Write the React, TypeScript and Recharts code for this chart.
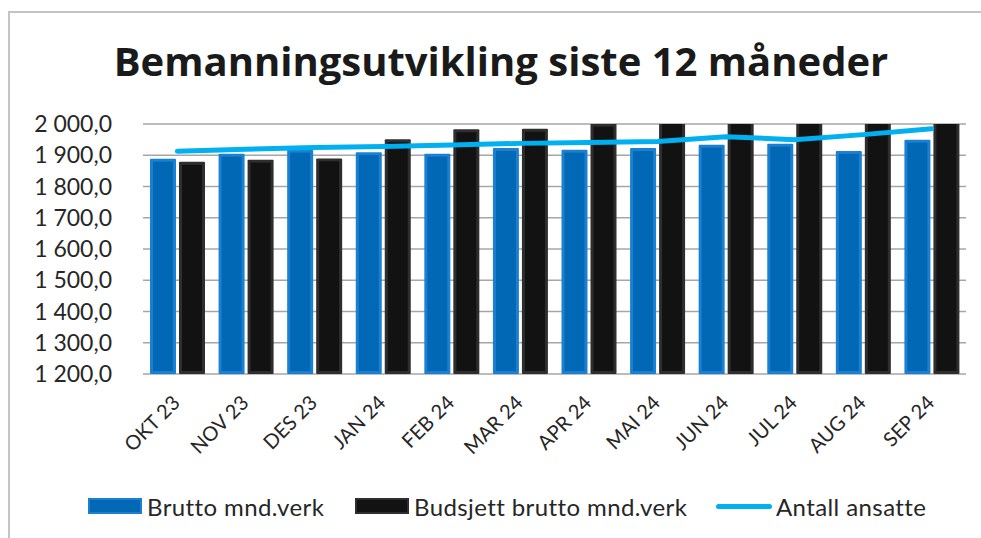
import { Bar, CartesianGrid, ComposedChart, Legend, Line, XAxis, YAxis } from "recharts";

const MONTHS = ["OKT 23", "NOV 23", "DES 23", "JAN 24", "FEB 24", "MAR 24", "APR 24", "MAI 24", "JUN 24", "JUL 24", "AUG 24", "SEP 24"];
const BRUTTO = [1889, 1905, 1918, 1910, 1905, 1923, 1918, 1923, 1934, 1937, 1914, 1950];
const BUDSJETT = [1879, 1886, 1890, 1951, 1983, 1985, 2001, 2012, 2015, 2020, 2028, 2035];
const ANSATTE = [1913, 1919, 1925, 1928, 1933, 1938, 1941, 1944, 1959, 1950, 1966, 1985];
const Y_TICKS = [1200, 1300, 1400, 1500, 1600, 1700, 1800, 1900, 2000];

const FONT = "Lato, 'Open Sans', sans-serif";
const TEXT = "#262626";
const BLUE = "#0068b5";
const BLUE_EDGE = "#1c80d2";
const BLACK = "#121212";
const BLACK_EDGE = "#2e2e2e";
const LINE = "#00b0f0";

const data = MONTHS.map((m, i) => ({
  month: m,
  brutto: BRUTTO[i],
  budsjett: BUDSJETT[i],
  ansatte: ANSATTE[i],
}));

const fmt = (v: number) => {
  const [int, dec] = v.toFixed(1).split(".");
  return int.replace(/\B(?=(\d{3})+(?!\d))/g, " ") + "," + dec;
};

const bevel = (outer: string, inner: string) => (props: any) => {
  const { x, y, width, height } = props;
  if (!height || height <= 0) return <g />;
  return (
    <g>
      <rect x={x} y={y} width={width} height={height} fill={outer} rx={1} />
      <rect x={x + 3} y={y + 3} width={Math.max(width - 6, 0)} height={Math.max(height - 6, 0)} fill={inner} />
    </g>
  );
};

const XTick = ({ x, y, payload }: any) => (
  <text
    x={x + 4}
    y={y + 22}
    transform={`rotate(-45 ${x + 4} ${y + 22})`}
    textAnchor="end"
    fontFamily={FONT}
    fontSize={20}
    fill={TEXT}
  >
    {payload.value}
  </text>
);

// legend items are placed where the reference has them
const LEGEND_ITEMS = [
  { label: "Brutto mnd.verk", left: 88, kind: "blue" },
  { label: "Budsjett brutto mnd.verk", left: 355, kind: "black" },
  { label: "Antall ansatte", left: 716, kind: "line" },
];

const LegendContent = () => (
  <div style={{ position: "relative", height: 30 }}>
    {LEGEND_ITEMS.map((it) => (
      <div key={it.label} style={{ position: "absolute", left: it.left, top: 0, height: 30, display: "flex", alignItems: "center" }}>
        {it.kind === "line" ? (
          <div style={{ width: 56, height: 5, borderRadius: 3, background: LINE }} />
        ) : (
          <div
            style={{
              width: 54,
              height: 16,
              boxSizing: "border-box",
              background: it.kind === "blue" ? BLUE : BLACK,
              border: `2px solid ${it.kind === "blue" ? BLUE_EDGE : BLACK_EDGE}`,
            }}
          />
        )}
        <span style={{ marginLeft: it.kind === "line" ? 4 : 5, fontSize: 24, letterSpacing: 0.4, color: TEXT, fontFamily: FONT, whiteSpace: "nowrap" }}>
          {it.label}
        </span>
      </div>
    ))}
  </div>
);

export default function App() {
  return (
    <div style={{ position: "absolute", left: 0, top: 0, width: 981, height: 538, background: "#fff", overflow: "hidden" }}>
      <div style={{ position: "absolute", left: 8, top: 11, right: 0, bottom: 0, borderLeft: "2px solid #c4c4c4", borderTop: "2px solid #c4c4c4" }} />
      <div
        style={{
          position: "absolute",
          left: 0,
          top: 33,
          width: 1002,
          textAlign: "center",
          fontFamily: "'Open Sans', Lato, sans-serif",
          fontWeight: 700,
          fontSize: 40,
          color: "#1a1a1a",
          whiteSpace: "nowrap",
        }}
      >
        Bemanningsutvikling siste 12 måneder
      </div>
      <ComposedChart
        width={981}
        height={538}
        data={data}
        margin={{ top: 124, right: 15, left: 43, bottom: 94 }}
        barGap={3}
        barCategoryGap={7}
        style={{ position: "absolute", left: 0, top: 0 }}
      >
        <CartesianGrid vertical={false} stroke="#a6a6a6" strokeWidth={1.5} />
        <XAxis dataKey="month" height={70} tickLine={false} axisLine={false} tick={<XTick />} interval={0} />
        <YAxis
          width={100}
          domain={[1200, 2000]}
          ticks={Y_TICKS}
          allowDataOverflow
          tickFormatter={fmt}
          tickLine={false}
          axisLine={false}
          tickSize={0}
          tickMargin={31}
          tick={{ fontFamily: FONT, fontSize: 23, fill: TEXT }}
        />
        <Bar dataKey="brutto" name="Brutto mnd.verk" shape={bevel(BLUE_EDGE, BLUE)} isAnimationActive={false} />
        <Bar dataKey="budsjett" name="Budsjett brutto mnd.verk" shape={bevel(BLACK_EDGE, BLACK)} isAnimationActive={false} />
        <Line
          dataKey="ansatte"
          name="Antall ansatte"
          type="linear"
          stroke={LINE}
          strokeWidth={5}
          strokeLinecap="round"
          dot={false}
          activeDot={false}
          isAnimationActive={false}
        />
        <Legend
          layout="horizontal"
          verticalAlign="middle"
          content={<LegendContent />}
          wrapperStyle={{ position: "absolute", top: 491, left: 0, width: 981, height: 30 }}
        />
      </ComposedChart>
    </div>
  );
}
